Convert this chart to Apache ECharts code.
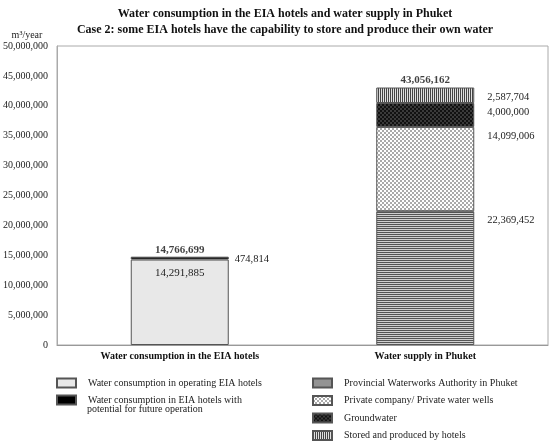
<!DOCTYPE html>
<html>
<head>
<meta charset="utf-8">
<script src="https://cdn.jsdelivr.net/npm/echarts@6/dist/echarts.min.js"></script>
<style>
  html, body { margin: 0; padding: 0; background: #fff; }
  #main { width: 550px; height: 447px; }
</style>
</head>
<body>
<div id="main"></div>
<script>
/* chart data */
var categories = ['Water consumption in the EIA hotels', 'Water supply in Phuket'];
var operatingHotels = [14291885, '-'];
var futureHotels = [474814, '-'];
var pwaSupply = ['-', 22369452];
var privateSupply = ['-', 14099006];
var groundwater = ['-', 4000000];
var storedByHotels = ['-', 2587704];
var totals = [14766699, 43056162];
var yTicks = [0, 5000000, 10000000, 15000000, 20000000, 25000000, 30000000, 35000000, 40000000, 45000000, 50000000];

var FONT = '"Liberation Serif", "DejaVu Serif", serif';

/* small canvas patterns for the hatched fills */
function makePattern(w, h, draw) {
	var c = document.createElement('canvas');
	c.width = w;
	c.height = h;
	draw(c.getContext('2d'));
	return { image: c, repeat: 'repeat' };
}
var hLines = makePattern(1, 2, function(g){
	g.fillStyle = '#d0d0d0'; g.fillRect(0, 0, 1, 2);
	g.fillStyle = '#555'; g.fillRect(0, 0, 1, 1);
});
var checkLight = makePattern(4, 4, function(g){
	g.fillStyle = '#fff'; g.fillRect(0, 0, 4, 4);
	g.fillStyle = '#aaa'; g.fillRect(0, 0, 2, 2); g.fillRect(2, 2, 2, 2);
});
var checkDark = makePattern(4, 4, function(g){
	g.fillStyle = '#111'; g.fillRect(0, 0, 4, 4);
	g.fillStyle = '#3a3a3a'; g.fillRect(0, 0, 2, 2); g.fillRect(2, 2, 2, 2);
});
var vLines = makePattern(2, 1, function(g){
	g.fillStyle = '#e0e0e0'; g.fillRect(0, 0, 2, 1);
	g.fillStyle = '#444'; g.fillRect(0, 0, 1, 1);
});

function fmt(v) { return Number(v).toLocaleString('en-US'); }

var rightLabel = {
	show: true,
	position: [111, 4],
	verticalAlign: 'top',
	fontFamily: FONT,
	fontSize: 10.5,
	color: '#222',
	formatter: function(p){ return fmt(p.value); }
};

function barSeries(name, data, color, label) {
	return {
		name: name,
		type: 'bar',
		stack: 'total',
		barWidth: 98,
		data: data,
		itemStyle: { color: color, borderColor: '#555', borderWidth: 1 },
		label: label,
		emphasis: { disabled: true }
	};
}

var legendText = { fontFamily: FONT, fontSize: 10, color: '#222', lineHeight: 12, padding: [0, 0, 0, 7] };

var chart = echarts.init(document.getElementById('main'));

var option = {
	animation: false,
	title: {
		text: 'Water consumption in the EIA hotels and water supply in Phuket\nCase 2: some EIA hotels have the capability to store and produce their own water',
		left: 285,
		textAlign: 'center',
		top: 6,
		padding: 0,
		textStyle: { fontFamily: FONT, fontSize: 12, fontWeight: 'bold', color: '#111', lineHeight: 16 }
	},
	grid: {
		left: 57, right: 2, top: 46, bottom: 102,
		outerBoundsMode: 'none',
		containLabel: false,
		show: true, borderColor: '#aaa', borderWidth: 1
	},
	legend: [
		{
			orient: 'vertical', left: 56, top: 377, padding: 0,
			itemWidth: 19, itemHeight: 9, itemGap: 5, icon: 'rect',
			selectedMode: false,
			textStyle: legendText,
			data: ['Water consumption in operating EIA hotels', 'Water consumption in EIA hotels with']
		},
		{
			orient: 'vertical', left: 312, top: 377, padding: 0,
			itemWidth: 19, itemHeight: 9, itemGap: 5.5, icon: 'rect',
			selectedMode: false,
			textStyle: legendText,
			data: ['Provincial Waterworks Authority in Phuket', 'Private company/ Private water wells', 'Groundwater', 'Stored and produced by hotels']
		}
	],
	graphic: [
		{
			type: 'text', left: 87, top: 404,
			style: { text: 'potential for future operation', fontFamily: FONT, fontSize: 10, fill: '#222' }
		}
	],
	xAxis: {
		type: 'category',
		data: categories,
		axisLine: { lineStyle: { color: '#999' } },
		axisTick: { show: false },
		axisLabel: { fontFamily: FONT, fontSize: 10, fontWeight: 'bold', color: '#111', margin: 6 }
	},
	yAxis: {
		type: 'value',
		min: 0,
		max: 50000000,
		interval: 5000000,
		name: 'm³/year',
		nameLocation: 'end',
		nameGap: 6,
		nameTextStyle: { fontFamily: FONT, fontSize: 10, color: '#222', align: 'center', padding: [0, 0, 0, -60] },
		axisLine: { show: true, lineStyle: { color: '#aaa' } },
		axisTick: { show: false },
		splitLine: { show: false },
		axisLabel: {
			fontFamily: FONT, fontSize: 10, color: '#222', margin: 9,
			formatter: function(v){ return yTicks.indexOf(v) >= 0 ? fmt(v) : ''; }
		}
	},
	series: [
		barSeries('Water consumption in operating EIA hotels', operatingHotels, '#e8e8e8', {
			show: true, position: 'insideTop', distance: 8,
			fontFamily: FONT, fontSize: 11, color: '#222',
			formatter: function(p){ return fmt(p.value); }
		}),
		barSeries('Water consumption in EIA hotels with', futureHotels, '#000', {
			show: true, position: [104, -3], verticalAlign: 'top',
			fontFamily: FONT, fontSize: 10.5, color: '#222',
			formatter: function(p){ return fmt(p.value); }
		}),
		barSeries('Provincial Waterworks Authority in Phuket', pwaSupply, hLines, rightLabel),
		barSeries('Private company/ Private water wells', privateSupply, checkLight, rightLabel),
		barSeries('Groundwater', groundwater, checkDark, rightLabel),
		barSeries('Stored and produced by hotels', storedByHotels, vLines, rightLabel),
		{
			name: 'total',
			type: 'scatter',
			data: totals,
			symbolSize: 1,
			itemStyle: { color: 'rgba(0,0,0,0)' },
			label: {
				show: true, position: 'top', distance: 1,
				fontFamily: FONT, fontSize: 11, fontWeight: 'bold', color: '#111',
				formatter: function(p){ return fmt(p.value); }
			},
			emphasis: { disabled: true }
		}
	]
};

chart.setOption(option);
</script>
</body>
</html>
